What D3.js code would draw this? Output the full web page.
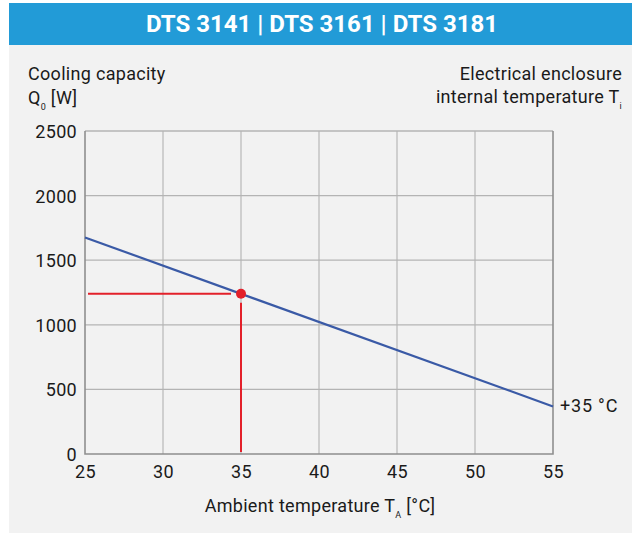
<!DOCTYPE html>
<html>
<head>
<meta charset="utf-8">
<script src="https://cdn.jsdelivr.net/npm/d3@7"></script>
<style>
  body { margin: 0; background: #fff; }
  svg text { font-family: "Liberation Sans Narrow", "Arial Narrow", "Roboto", sans-serif; fill: #1a1a1a; letter-spacing: 0.3px; }
</style>
</head>
<body>
<svg id="chart"></svg>
<script>
// data
let title = "DTS 3141 | DTS 3161 | DTS 3181"
let xTicks = [25, 30, 35, 40, 45, 50, 55]
let yTicks = [0, 500, 1000, 1500, 2000, 2500]
let lineTemps = [25, 55]
let lineWatts = [1676, 368]
let curveLabel = "+35 °C"
let opTemp = [35]
let opWatt = [1240]

let width = 632
let height = 533
let plotLeft = 85, plotRight = 553, plotTop = 131, plotBottom = 454

let svg = d3.select('#chart')
    .attr('width', width)
    .attr('height', height)

// backgrounds
svg.append('rect')
   .attr('x', 9).attr('y', 3)
   .attr('width', width - 9).attr('height', height - 3)
   .attr('fill', '#f2f2f2')

svg.append('rect')
   .attr('x', 9).attr('y', 3)
   .attr('width', width - 9).attr('height', 42)
   .attr('fill', '#229bd7')

svg.append('text')
   .attr('x', 322).attr('y', 32)
   .attr('text-anchor', 'middle')
   .style('font-size', '24px')
   .style('font-weight', 'bold')
   .style('letter-spacing', '0px')
   .style('fill', '#fff')
   .text(title)

let xScale = d3.scaleLinear()
    .domain([25, 55])
    .range([plotLeft, plotRight])

let yScale = d3.scaleLinear()
    .domain([0, 2500])
    .range([plotBottom, plotTop])

// grid
let grid = svg.append('g')
grid.selectAll('line.v')
    .data(xTicks.slice(1, -1))
    .enter()
    .append('line')
    .attr('x1', d => xScale(d)).attr('x2', d => xScale(d))
    .attr('y1', plotTop).attr('y2', plotBottom)
    .attr('stroke', '#bcbcbc').attr('stroke-width', 1.3)

grid.selectAll('line.h')
    .data(yTicks.slice(1))
    .enter()
    .append('line')
    .attr('x1', plotLeft).attr('x2', plotRight)
    .attr('y1', d => yScale(d)).attr('y2', d => yScale(d))
    .attr('stroke', '#b4b4b4').attr('stroke-width', 1.3)

// frame: left, bottom, right darker
svg.append('path')
   .attr('d', `M${plotLeft},${plotTop}V${plotBottom}H${plotRight}V${plotTop}`)
   .attr('fill', 'none')
   .attr('stroke', '#8f8f8f')
   .attr('stroke-width', 1.6)

// axes (labels only)
let xAxis = d3.axisBottom(xScale).tickValues(xTicks).tickSize(0).tickPadding(11)
    .tickFormat(d3.format('d'))
let yAxis = d3.axisLeft(yScale).tickValues(yTicks).tickSize(0).tickPadding(8)
    .tickFormat(d3.format('d'))

let gx = svg.append('g')
    .attr('transform', 'translate(0,' + plotBottom + ')')
    .call(xAxis)
let gy = svg.append('g')
    .attr('transform', 'translate(' + plotLeft + ',0)')
    .call(yAxis)

for (let g of [gx, gy]) {
    g.attr('font-family', null).attr('font-size', null)
    g.select('.domain').remove()
    g.selectAll('text')
     .style('font-size', '18px')
     .style('fill', '#1a1a1a')
}
gy.selectAll('text').attr('dy', '0.36em')

// operating point guides
let px = xScale(opTemp[0])
let py = yScale(opWatt[0])
svg.append('line')
   .attr('x1', plotLeft + 3).attr('x2', px - 10)
   .attr('y1', py).attr('y2', py)
   .attr('stroke', '#e3202a').attr('stroke-width', 2)
svg.append('line')
   .attr('x1', px).attr('x2', px)
   .attr('y1', py + 9).attr('y2', plotBottom - 2)
   .attr('stroke', '#e3202a').attr('stroke-width', 2)

// curve
let line = d3.line()
    .x((d, i) => xScale(lineTemps[i]))
    .y(d => yScale(d))
svg.append('path')
   .datum(lineWatts)
   .attr('d', line)
   .attr('fill', 'none')
   .attr('stroke', '#3a5aa6')
   .attr('stroke-width', 2.2)

svg.append('circle')
   .attr('cx', px).attr('cy', py).attr('r', 5)
   .attr('fill', '#e3202a')

svg.append('text')
   .attr('x', plotRight + 7)
   .attr('y', yScale(lineWatts[1]) + 6)
   .style('font-size', '18px')
   .style('letter-spacing', '0.8px')
   .text(curveLabel)

// axis titles
let t1 = svg.append('text').attr('x', 28).attr('y', 80).style('font-size', '18px')
t1.append('tspan').text('Cooling capacity')
let t2 = svg.append('text').attr('x', 28).attr('y', 104).style('font-size', '18px')
t2.append('tspan').text('Q')
t2.append('tspan').attr('dy', 6).style('font-size', '9px').text('0')
t2.append('tspan').attr('dy', -6).text(' [W]')

svg.append('text').attr('x', 622).attr('y', 80)
   .attr('text-anchor', 'end').style('font-size', '18px')
   .text('Electrical enclosure')
let t3 = svg.append('text').attr('x', 622).attr('y', 103)
   .attr('text-anchor', 'end').style('font-size', '18px')
t3.append('tspan').text('internal temperature T')
t3.append('tspan').attr('dy', 6).style('font-size', '9px').text('i')

let t4 = svg.append('text').attr('x', 320).attr('y', 512)
   .attr('text-anchor', 'middle').style('font-size', '18px')
t4.append('tspan').text('Ambient temperature T')
t4.append('tspan').attr('dy', 6).style('font-size', '9px').text('A')
t4.append('tspan').attr('dy', -6).text(' [°C]')
</script>
</body>
</html>
